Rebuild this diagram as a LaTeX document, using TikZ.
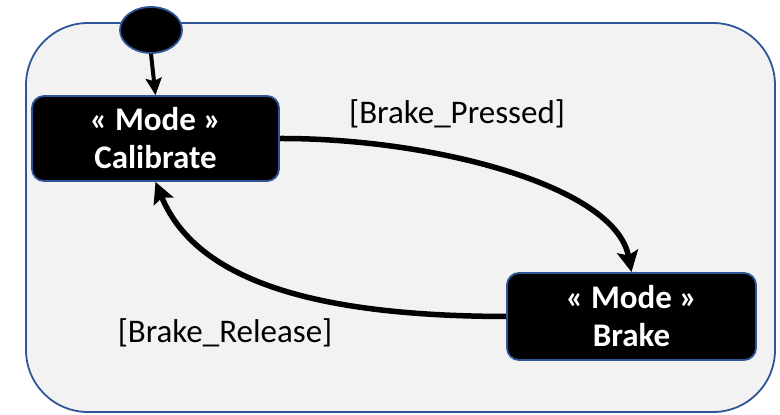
\documentclass[tikz,border=0pt]{standalone}
\usepackage{fontspec}
\setmainfont{Carlito}
\usetikzlibrary{arrows.meta,shapes.geometric}
\definecolor{edgeblue}{HTML}{2F5597}
\definecolor{panel}{HTML}{F2F2F2}
\tikzset{
  modebox/.style={draw=edgeblue, line width=1.8pt, fill=black, text=white,
    rounded corners=12pt, minimum width=247pt, minimum height=85pt,
    align=center, font=\fontsize{33}{38}\selectfont\bfseries, inner sep=0pt},
  guard/.style={font=\fontsize{33}{36}\selectfont, text=black, inner sep=0pt},
  trans/.style={line width=5.5pt, -{Stealth[length=21pt,width=21pt,inset=4pt]}},
}
\begin{document}
\begin{tikzpicture}[x=1pt,y=-1pt]
\useasboundingbox (0,0) rectangle (780,415);
% enclosing state region
\draw[edgeblue, line width=1.8pt, fill=panel, rounded corners=62pt] (26,23) rectangle (775,412);
% initial pseudo-state
\node[ellipse, draw=edgeblue, line width=1.8pt, fill=black, minimum width=62pt, minimum height=46pt, inner sep=0pt] (init) at (151,30) {};
% modes
\node[modebox] (cal) at (155.5,138.5) {« Mode »\\Calibrate};
\node[modebox, minimum width=249pt, minimum height=87pt] (brk) at (631.5,316.5) {« Mode »\\Brake};
% transitions
\draw[line width=4pt, -{Stealth[length=17pt,width=16pt,inset=3pt]}] (init.south) -- (cal.north);
\draw[trans] (cal.east) .. controls (430,138) and (615,185) .. (brk.north);
\draw[trans] (brk.west) .. controls (340,316) and (200,290) .. (cal.south);
% guards
\node[guard] (gp) at (457,114) {[Brake\_Pressed]};
\node[guard] (gr) at (225,333) {[Brake\_Release]};
\end{tikzpicture}
\end{document}
